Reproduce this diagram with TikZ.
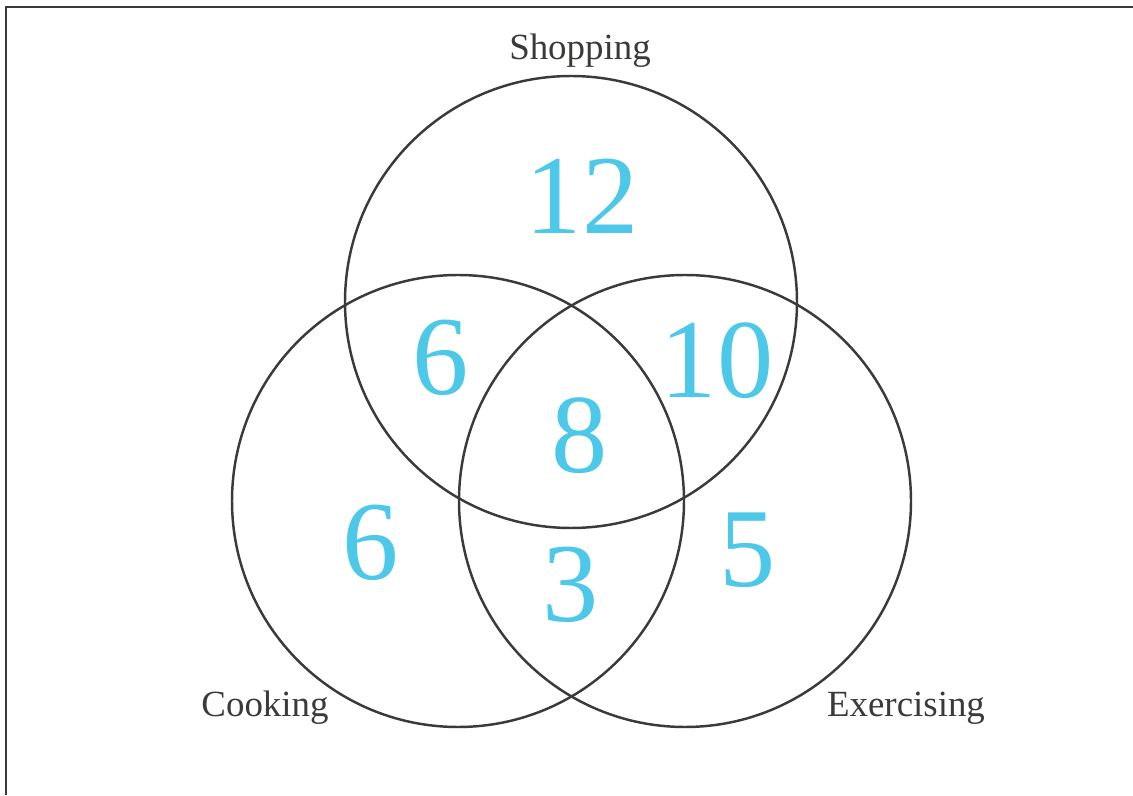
\documentclass[tikz,border=0pt]{standalone}
\usepackage{fontspec}
\setmainfont{Liberation Serif}
\definecolor{numcyan}{HTML}{4EC8E8}
\definecolor{linegray}{HTML}{3A3A38}
\begin{document}
\begin{tikzpicture}[x=0.02cm, y=0.02cm,
    conjunto/.style={draw=linegray, line width=1.4pt},
    rotulo/.style={text=linegray, inner sep=0pt, anchor=base, font=\fontsize{21}{25}\selectfont},
    numero/.style={text=numcyan, inner sep=0pt, font=\fontsize{64}{70}\selectfont}]
        \useasboundingbox (0,0) rectangle (1133,795);

        % Moldura
        \draw[linegray, line width=1.1pt] (6,0) -- (6,788) -- (1133,788);

        % Conjuntos
        \draw[conjunto] (571,493) circle (226);
        \draw[conjunto] (458,294) circle (226);
        \draw[conjunto] (685,294) circle (226);

        % Nomes dos conjuntos
        \node[rotulo] (shopping) at (580,735) {Shopping};
        \node[rotulo] (cooking) at (265,79) {Cooking};
        \node[rotulo] (exercising) at (906,79) {Exercising};

        % Quantidades em cada regiao
        \node[numero] (soS) at (582,599) {12};
        \node[numero] (sC) at (441,437) {6};
        \node[numero] (sE) at (717,434) {10};
        \node[numero] (sCE) at (580,359) {8};
        \node[numero] (soC) at (371,252) {6};
        \node[numero] (CE) at (571,210) {3};
        \node[numero] (soE) at (748,245) {5};
    \end{tikzpicture}
\end{document}
